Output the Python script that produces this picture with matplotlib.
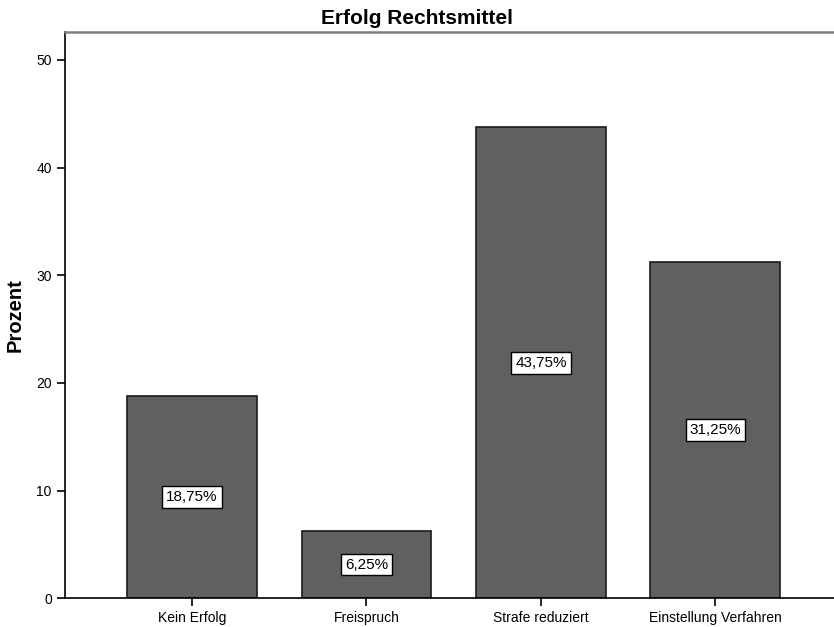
import matplotlib
matplotlib.use("Agg")
import matplotlib.pyplot as plt

categories = ["Kein Erfolg", "Freispruch", "Strafe reduziert", "Einstellung Verfahren"]
prozent = [18.75, 6.25, 43.75, 31.25]
labels = ["18,75%", "6,25%", "43,75%", "31,25%"]

plt.rcParams["font.family"] = ["Liberation Sans", "DejaVu Sans"]

fig = plt.figure(figsize=(8.34, 6.27), dpi=100)
ax = fig.add_axes([0.078, 0.046, 0.922, 0.903])

x = list(range(len(categories)))
ax.bar(x, prozent, width=0.745, color="#606060", edgecolor="#1a1a1a", linewidth=1.2)

for xi, v, lab in zip(x, prozent, labels):
    ax.text(xi, v / 2, lab, ha="center", va="center", fontsize=11,
            bbox=dict(boxstyle="square,pad=0.25", fc="white", ec="black", lw=1.0))

ax.set_xlim(-0.728, 3.68)
ax.set_ylim(0, 52.6)
ax.set_yticks([0, 10, 20, 30, 40, 50])
ax.set_xticks(x)
ax.set_xticklabels(categories, fontsize=10)
ax.tick_params(axis="y", labelsize=10, length=6, width=1.2)
ax.tick_params(axis="x", length=6, width=1.2)

ax.spines["right"].set_visible(False)
ax.spines["top"].set_color("#808080")
ax.spines["top"].set_linewidth(1.8)
ax.spines["left"].set_linewidth(1.2)
ax.spines["bottom"].set_linewidth(1.2)

ax.set_ylabel("Prozent", fontsize=14.5, fontweight="bold", labelpad=8)
fig.text(0.5, 1 - 24 / 627, "Erfolg Rechtsmittel", ha="center", va="baseline",
         fontsize=15, fontweight="bold")

fig.savefig("out.png", dpi=100)
